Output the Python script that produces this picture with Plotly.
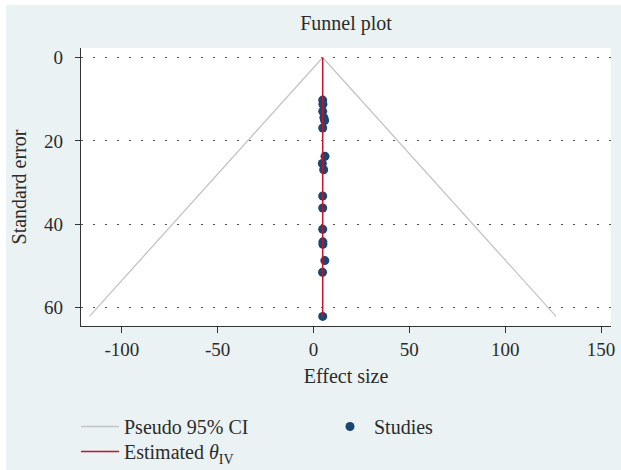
import plotly.graph_objects as go

# ---- data ----
study_se = [10.2, 11.2, 12.9, 14.4, 15.1, 16.9, 23.7, 25.4, 26.9, 33.2, 36.1, 41.2, 44.2, 44.8, 48.7, 51.5, 62.1]
study_effect = [4.8, 4.9, 4.8, 5.4, 5.8, 4.8, 6.0, 4.6, 5.3, 4.8, 4.8, 4.8, 4.9, 4.9, 5.9, 4.7, 4.8]
theta_iv = 4.8
z_crit = 1.96
x_ticks = [-100, -50, 0, 50, 100, 150]
y_ticks = [0, 20, 40, 60]

se_max = max(study_se)
ci_x = [theta_iv - z_crit * se_max, theta_iv, theta_iv + z_crit * se_max]
ci_y = [se_max, 0, se_max]

FONT = "Liberation Serif"
TXT = "#2b2b2b"
BG = "#eaf2f3"

fig = go.Figure()
fig.add_trace(go.Scatter(x=ci_x, y=ci_y, mode="lines", name="Pseudo 95% CI",
                         line=dict(color="#c4c4c4", width=1.3), legend="legend"))
fig.add_trace(go.Scatter(x=study_effect, y=study_se, mode="markers", name="Studies",
                         marker=dict(color="#1a476f", size=9, line=dict(width=0)),
                         legend="legend"))
fig.add_trace(go.Scatter(x=[theta_iv, theta_iv], y=[0, se_max], mode="lines",
                         name="Estimated <i>θ</i><sub>IV</sub>",
                         line=dict(color="#c8102e", width=1.5), legend="legend2"))

W, H = 621, 470
L, R, T, B = 81, 10, 48, 144
pw, ph = W - L - R, H - T - B

def px_x(p):
    return (p - L) / pw

def px_y(p):
    return (H - B - p) / ph

fig.add_shape(type="rect", xref="paper", yref="paper", layer="below",
              x0=px_x(6), x1=px_x(W + 2), y0=px_y(H + 2), y1=px_y(5),
              fillcolor=BG, line=dict(width=0))
fig.add_shape(type="rect", xref="paper", yref="paper", layer="below",
              x0=0, x1=1, y0=0, y1=1, fillcolor="white", line=dict(width=0))

leg_common = dict(orientation="h", x=px_x(76), xanchor="left", yanchor="top",
                  bgcolor="rgba(0,0,0,0)",
                  font=dict(size=20, family=FONT, color=TXT),
                  itemwidth=38, entrywidth=197, entrywidthmode="pixels",
                  traceorder="normal")

fig.update_layout(
    width=W, height=H,
    margin=dict(l=L, r=R, t=T, b=B, autoexpand=False),
    paper_bgcolor="white", plot_bgcolor="white",
    font=dict(family=FONT, color=TXT, size=20),
    title=dict(text="Funnel plot", x=0.5, xref="paper", xanchor="center",
               y=1 - 23 / H, yref="container", yanchor="middle",
               font=dict(size=20, family=FONT, color=TXT)),
    showlegend=True,
    legend=dict(y=px_y(407), **leg_common),
    legend2=dict(y=px_y(432), **leg_common),
)

fig.update_xaxes(range=[-121.3, 155.2], tickvals=x_ticks,
                 ticktext=[str(v) for v in x_ticks],
                 showgrid=False, zeroline=False, showline=True,
                 linecolor="#333333", linewidth=1.3, ticks="outside",
                 ticklen=6, tickcolor="#333333", tickwidth=1.3,
                 tickfont=dict(size=19, family=FONT, color=TXT),
                 title=dict(text="Effect size", standoff=10,
                            font=dict(size=20, family=FONT, color=TXT)))
fig.update_yaxes(range=[64.4, -2.3], tickvals=y_ticks,
                 ticktext=[str(v) for v in y_ticks],
                 showgrid=True, gridcolor="#555555", gridwidth=1,
                 griddash="2px,10px", zeroline=False, showline=True,
                 linecolor="#333333", linewidth=1.3, ticks="outside",
                 ticklen=5, tickcolor="#333333", tickwidth=1.3,
                 ticklabelstandoff=8,
                 tickfont=dict(size=19, family=FONT, color=TXT),
                 title=dict(text="Standard error", standoff=12,
                            font=dict(size=20, family=FONT, color=TXT)))

fig.write_html("out.html")
